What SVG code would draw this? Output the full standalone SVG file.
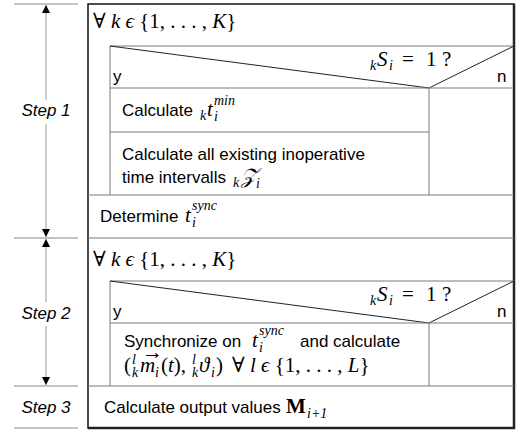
<svg xmlns="http://www.w3.org/2000/svg" width="518" height="430" viewBox="0 0 518 430">
<defs>
<style>
.t{font-family:"Liberation Sans",Arial,sans-serif;font-size:17px;fill:#000}
.st{font-family:"Liberation Sans",Arial,sans-serif;font-size:17px;font-style:italic;fill:#000;text-anchor:middle}
.m{font-family:"Liberation Serif","DejaVu Serif",serif;font-size:21px;fill:#000}
.i{font-style:italic}
.s{font-size:14px}
.g{stroke:#7a7a7a;stroke-width:1;fill:none}
.d{stroke:#222;stroke-width:1;fill:none}
.tick{stroke:#888;stroke-width:1}
.ax{stroke:#999;stroke-width:1}
</style>
<marker id="ah" viewBox="0 0 10 10" refX="10" refY="5" markerWidth="8" markerHeight="11" markerUnits="userSpaceOnUse" orient="auto">
<path d="M0,0 L10,5 L0,10 Z" fill="#000"/>
</marker>
</defs>
<rect width="518" height="430" fill="#fff"/>

<g id="connectors">
<line class="tick" x1="14" y1="4" x2="78" y2="4"/>
<line class="tick" x1="14" y1="238" x2="78" y2="238"/>
<line class="tick" x1="14" y1="386" x2="78" y2="386"/>
<line class="tick" x1="14" y1="428" x2="78" y2="428"/>
<line class="ax" x1="46" y1="100" x2="46" y2="5" marker-end="url(#ah)"/>
<line class="ax" x1="46" y1="124" x2="46" y2="237" marker-end="url(#ah)"/>
<line class="ax" x1="46" y1="302" x2="46" y2="239" marker-end="url(#ah)"/>
<line class="ax" x1="46" y1="326" x2="46" y2="385" marker-end="url(#ah)"/>
</g>

<g id="labels">
<text class="st" x="46" y="116">Step 1</text>
<text class="st" x="46" y="319">Step 2</text>
<text class="st" x="46" y="413">Step 3</text>
</g>

<g id="frame">
<rect x="88" y="4" width="426" height="424" fill="none" stroke="#111" stroke-width="1.5"/>
<line x1="514" y1="4" x2="514" y2="429" stroke="#222" stroke-width="2.5"/>
<line x1="88" y1="428" x2="515" y2="428" stroke="#222" stroke-width="2.5"/>
</g>

<g id="loop1">
<text class="m" x="93" y="28">∀ <tspan class="i">k</tspan> <tspan class="i">ϵ</tspan> {1, . . . , <tspan class="i">K</tspan>}</text>
</g>

<g id="decision1">
<line class="g" x1="110" y1="46" x2="514" y2="46"/>
<line class="g" x1="110" y1="46" x2="110" y2="195"/>
<polyline class="d" points="110,46 429,88 514,46"/>
<line class="g" x1="110" y1="88" x2="514" y2="88"/>
<line class="g" x1="429" y1="88" x2="429" y2="195"/>
<text class="m s i" x="370" y="70">k</text>
<text class="m i" x="377" y="66">S</text>
<text class="m s i" x="389" y="70">i</text>
<text class="m" x="402" y="66">=</text>
<text class="m" x="426" y="66">1</text>
<text class="m" x="442" y="66">?</text>
<text class="t" x="113" y="82">y</text>
<text class="t" x="497" y="82">n</text>
</g>

<g id="calc-tmin">
<line class="g" x1="110" y1="132" x2="429" y2="132"/>
<text class="t" x="122" y="116">Calculate</text>
<text class="m s i" x="200" y="120">k</text>
<text class="m i" x="207" y="116">t</text>
<text class="m s i" x="214" y="121">i</text>
<text class="m s i" x="214" y="105">min</text>
</g>

<g id="calc-intervals">
<text class="t" x="122" y="160">Calculate all existing inoperative</text>
<text class="t" x="122" y="183">time intervalls</text>
<text class="m s i" x="233" y="187">k</text>
<text class="m i" x="241" y="183">𝒵</text>
<text class="m s i" x="256" y="188">i</text>
</g>

<g id="determine">
<line class="g" x1="88" y1="195" x2="514" y2="195"/>
<text class="t" x="100" y="222">Determine</text>
<text class="m i" x="185" y="222">t</text>
<text class="m s i" x="192" y="227">i</text>
<text class="m s i" x="192" y="210">sync</text>
</g>

<g id="loop2">
<line class="g" x1="88" y1="238" x2="514" y2="238"/>
<text class="m" x="93" y="266">∀ <tspan class="i">k</tspan> <tspan class="i">ϵ</tspan> {1, . . . , <tspan class="i">K</tspan>}</text>
</g>

<g id="decision2">
<line class="g" x1="110" y1="281" x2="514" y2="281"/>
<line class="g" x1="110" y1="281" x2="110" y2="386"/>
<polyline class="d" points="110,281 429,323 514,281"/>
<line class="g" x1="110" y1="323" x2="514" y2="323"/>
<line class="g" x1="429" y1="323" x2="429" y2="386"/>
<text class="m s i" x="370" y="305">k</text>
<text class="m i" x="377" y="301">S</text>
<text class="m s i" x="389" y="305">i</text>
<text class="m" x="402" y="301">=</text>
<text class="m" x="426" y="301">1</text>
<text class="m" x="442" y="301">?</text>
<text class="t" x="113" y="317">y</text>
<text class="t" x="497" y="317">n</text>
</g>

<g id="synchronize">
<text class="t" x="124" y="347">Synchronize on</text>
<text class="m i" x="252" y="347">t</text>
<text class="m s i" x="259" y="352">i</text>
<text class="m s i" x="259" y="335">sync</text>
<text class="t" x="300" y="347">and calculate</text>
<text class="m" x="124" y="372">(</text>
<text class="m s i" x="132" y="364">l</text>
<text class="m s i" x="132" y="377">k</text>
<text class="m i" x="140" y="372">m</text>
<text class="m" x="142" y="359" font-size="11">→</text>
<text class="m s i" x="155" y="377">i</text>
<text class="m" x="161" y="372">(<tspan class="i">t</tspan>),</text>
<text class="m s i" x="192" y="364">l</text>
<text class="m s i" x="192" y="377">k</text>
<text class="m i" x="199" y="372">ϑ</text>
<text class="m s i" x="211" y="377">i</text>
<text class="m" x="216" y="372">)</text>
<text class="m" x="232" y="372">∀ <tspan class="i">l</tspan> <tspan class="i">ϵ</tspan> {1, . . . , <tspan class="i">L</tspan>}</text>
</g>

<g id="output">
<line class="g" x1="88" y1="386" x2="514" y2="386"/>
<text class="t" x="104" y="413">Calculate output values</text>
<text class="m" x="286" y="413" font-weight="bold" font-size="23">M</text>
<text class="m s i" x="307" y="418">i+1</text>
</g>
</svg>
